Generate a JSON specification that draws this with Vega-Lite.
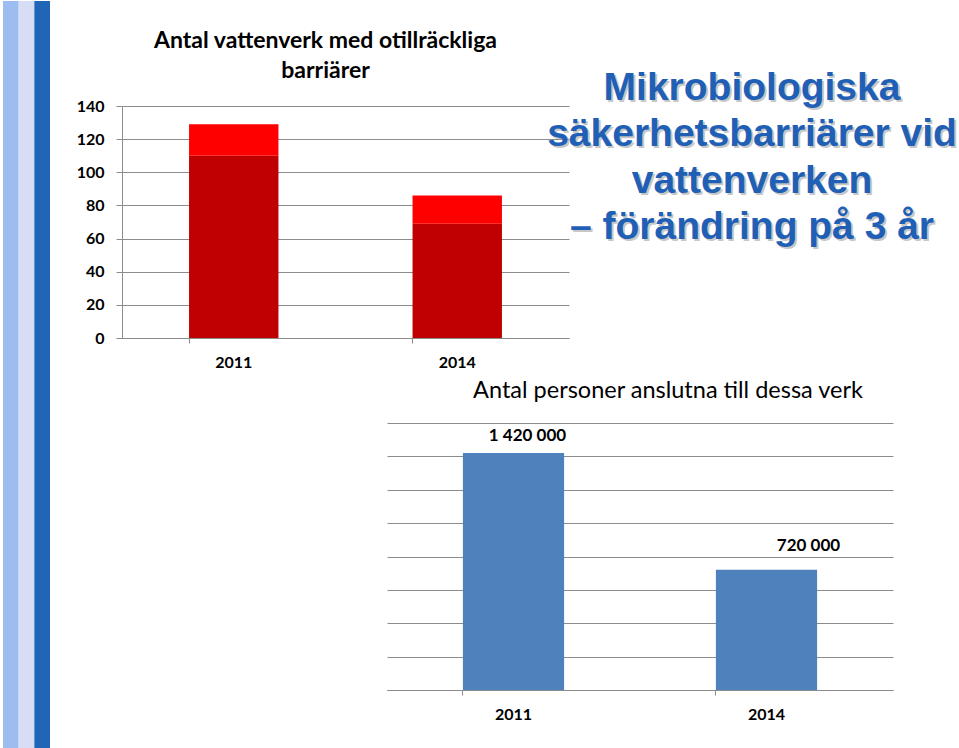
{
  "$schema": "https://vega.github.io/schema/vega-lite/v6.json",
  "padding": {"left": 3, "top": 0, "right": 0, "bottom": 0},
  "background": "white",
  "spacing": 26,
  "resolve": {"scale": {"color": "independent"}},
  "config": {
    "view": {"stroke": null},
    "font": "Lato",
    "locale": {"number": {"decimal": ",", "thousands": " ", "grouping": [3], "currency": ["", " kr"]}},
    "axis": {
      "domainColor": "#8c8c8c",
      "tickColor": "#8c8c8c",
      "gridColor": "#8c8c8c",
      "labelFont": "Lato",
      "labelFontWeight": "bold",
      "labelFontSize": 16,
      "labelColor": "#000000",
      "title": null
    },
    "title": {"font": "Lato", "color": "#000000", "anchor": "middle"}
  },
  "hconcat": [
    {
      "width": 47,
      "height": 643,
      "data": {"values": [{"stripe": "a", "v": 1}, {"stripe": "b", "v": 1}, {"stripe": "c", "v": 1}]},
      "mark": {"type": "bar"},
      "encoding": {
        "x": {"field": "stripe", "type": "nominal", "scale": {"paddingInner": 0, "paddingOuter": 0}, "axis": null},
        "y": {"field": "v", "type": "quantitative", "scale": {"domain": [0, 0.8596]}, "axis": null},
        "color": {"field": "stripe", "type": "nominal", "scale": {"domain": ["a", "b", "c"], "range": ["#9dbdf0", "#d6ddf5", "#2165b6"]}, "legend": null}
      }
    },
    {
      "spacing": 8,
      "vconcat": [
        {
          "bounds": "flush",
          "spacing": 0,
          "hconcat": [
            {
              "width": 447,
              "height": 232,
              "title": {
                "text": ["", "Antal vattenverk med otillräckliga", "barriärer"],
                "fontSize": 23,
                "fontWeight": "bold",
                "lineHeight": 30,
                "dx": -20,
                "offset": 15
              },
              "data": {"values": [
                {"year": "2011", "part": "del1", "value": 110},
                {"year": "2011", "part": "del2", "value": 19},
                {"year": "2014", "part": "del1", "value": 69},
                {"year": "2014", "part": "del2", "value": 17}
              ]},
              "mark": {"type": "bar"},
              "encoding": {
                "x": {
                  "field": "year", "type": "nominal",
                  "scale": {"paddingInner": 0.6, "paddingOuter": 0.3},
                  "axis": {"labelAngle": 0, "bandPosition": 0, "tickSize": 5, "labelPadding": 11}
                },
                "y": {
                  "field": "value", "type": "quantitative", "stack": "zero",
                  "scale": {"domain": [0, 140]},
                  "axis": {"values": [0, 20, 40, 60, 80, 100, 120, 140], "grid": true, "tickSize": 6, "labelPadding": 12}
                },
                "color": {"field": "part", "type": "nominal", "scale": {"domain": ["del1", "del2"], "range": ["#C00000", "#FF0000"]}, "legend": null},
                "order": {"field": "part", "sort": "ascending"}
              }
            },
            {
              "width": 366,
              "height": 185,
              "data": {"values": [
                {"rad": 1, "text": "Mikrobiologiska"},
                {"rad": 2, "text": "säkerhetsbarriärer vid"},
                {"rad": 3, "text": "vattenverken"},
                {"rad": 4, "text": "– förändring på 3 år"}
              ]},
              "encoding": {
                "y": {"field": "rad", "type": "ordinal", "scale": {"type": "point", "padding": 0.5}, "axis": null},
                "text": {"field": "text"}
              },
              "layer": [
                {"mark": {"type": "text", "font": "Liberation Sans", "fontWeight": "bold", "fontSize": 39, "color": "#9a9a9a", "opacity": 0.55, "baseline": "middle", "align": "center", "dx": 2, "dy": -39}},
                {"mark": {"type": "text", "font": "Liberation Sans", "fontWeight": "bold", "fontSize": 39, "color": "#1f60b6", "baseline": "middle", "align": "center", "dy": -41}}
              ]
            }
          ]
        },
        {
          "spacing": 0,
          "hconcat": [
            {
              "width": 265,
              "height": 20,
              "data": {"values": [{}]},
              "mark": {"type": "point", "opacity": 0}
            },
            {
              "width": 506,
              "height": 267,
              "title": {
                "text": "Antal personer anslutna till dessa verk",
                "fontSize": 23.5,
                "fontWeight": "normal",
                "dx": 28,
                "offset": 21
              },
              "data": {"values": [
                {"year": "2011", "value": 1420000},
                {"year": "2014", "value": 720000}
              ]},
              "encoding": {
                "x": {
                  "field": "year", "type": "nominal",
                  "scale": {"paddingInner": 0.6, "paddingOuter": 0.3},
                  "axis": {"labelAngle": 0, "bandPosition": 0, "tickSize": 5, "labelPadding": 11}
                },
                "y": {
                  "field": "value", "type": "quantitative",
                  "scale": {"domain": [0, 1600000]},
                  "axis": {"values": [0, 200000, 400000, 600000, 800000, 1000000, 1200000, 1400000, 1600000], "grid": true, "labels": false, "ticks": false, "domain": false, "minExtent": 0}
                }
              },
              "layer": [
                {"mark": {"type": "bar", "color": "#4F81BD"}},
                {
                  "transform": [{"filter": "datum.year == '2011'"}],
                  "mark": {"type": "text", "font": "Lato", "fontWeight": "bold", "fontSize": 17, "baseline": "middle", "dx": 14, "dy": -17, "color": "#000000"},
                  "encoding": {"text": {"field": "value", "type": "quantitative", "format": ",d"}}
                },
                {
                  "transform": [{"filter": "datum.year == '2014'"}],
                  "mark": {"type": "text", "font": "Lato", "fontWeight": "bold", "fontSize": 17, "baseline": "middle", "dx": 42, "dy": -24, "color": "#000000"},
                  "encoding": {"text": {"field": "value", "type": "quantitative", "format": ",d"}}
                }
              ]
            }
          ]
        }
      ]
    }
  ]
}
